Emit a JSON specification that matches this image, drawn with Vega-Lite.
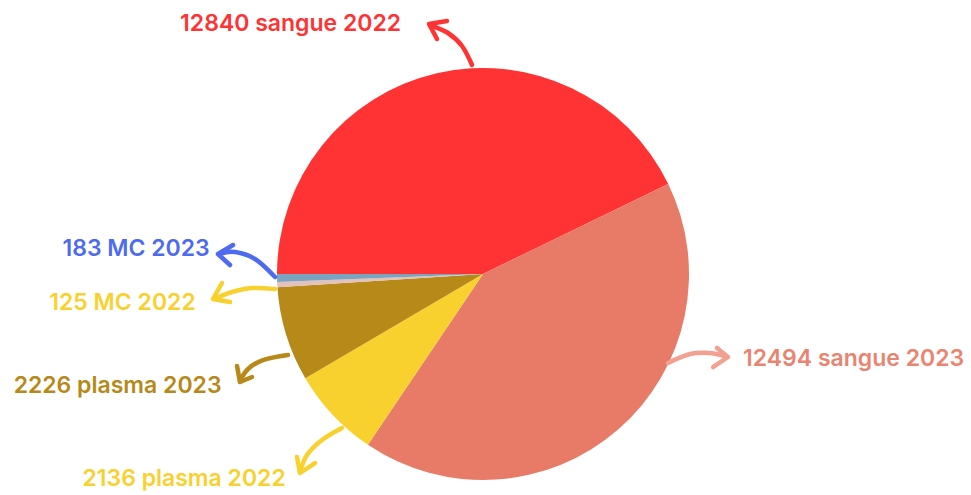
{
  "$schema": "https://vega.github.io/schema/vega-lite/v6.json",
  "width": 971,
  "height": 495,
  "padding": 0,
  "autosize": {"type": "fit", "contains": "padding"},
  "background": "white",
  "view": {"stroke": null},
  "config": {"font": "Inter"},
  "datasets": {
    "slices": [
      {"cat": "sangue 2022", "value": 12840, "ord": 1},
      {"cat": "sangue 2023", "value": 12494, "ord": 2},
      {"cat": "plasma 2022", "value": 2136, "ord": 3},
      {"cat": "plasma 2023", "value": 2226, "ord": 4},
      {"cat": "MC 2022", "value": 125, "ord": 5},
      {"cat": "MC 2023", "value": 183, "ord": 6}
    ],
    "labels": [
      {"cat": "sangue 2022", "label": "12840 sangue 2022", "lx": -93.4, "ly": 121.6},
      {"cat": "MC 2023", "label": "183 MC 2023", "lx": -168.4, "ly": 11.9},
      {"cat": "MC 2022", "label": "125 MC 2022", "lx": -175.0, "ly": -14.3},
      {"cat": "plasma 2023", "label": "2226 plasma 2023", "lx": -177.4, "ly": -54.4},
      {"cat": "plasma 2022", "label": "2136 plasma 2022", "lx": -145.1, "ly": -99.5},
      {"cat": "sangue 2023", "label": "12494 sangue 2023", "lx": 179.9, "ly": -41.3}
    ],
    "shafts": [
      {"cat": "sangue 2022", "i": 1, "ax": -5.34, "ay": 101.46},
      {"cat": "sangue 2022", "i": 2, "ax": -10.19, "ay": 110.68},
      {"cat": "sangue 2022", "i": 3, "ax": -16.99, "ay": 116.99},
      {"cat": "sangue 2022", "i": 4, "ax": -25.73, "ay": 120.87},
      {"cat": "MC 2023", "i": 1, "ax": -100.97, "ay": -1.46},
      {"cat": "MC 2023", "i": 2, "ax": -110.68, "ay": 7.28},
      {"cat": "MC 2023", "i": 3, "ax": -120.39, "ay": 10.68},
      {"cat": "MC 2023", "i": 4, "ax": -128.16, "ay": 9.71},
      {"cat": "MC 2022", "i": 1, "ax": -100.97, "ay": -7.28},
      {"cat": "MC 2022", "i": 2, "ax": -112.14, "ay": -6.80},
      {"cat": "MC 2022", "i": 3, "ax": -121.84, "ay": -8.74},
      {"cat": "MC 2022", "i": 4, "ax": -130.58, "ay": -12.14},
      {"cat": "plasma 2023", "i": 1, "ax": -94.66, "ay": -39.32},
      {"cat": "plasma 2023", "i": 2, "ax": -106.80, "ay": -41.75},
      {"cat": "plasma 2023", "i": 3, "ax": -114.08, "ay": -46.12},
      {"cat": "plasma 2023", "i": 4, "ax": -117.96, "ay": -51.94},
      {"cat": "plasma 2022", "i": 1, "ax": -68.45, "ay": -74.76},
      {"cat": "plasma 2022", "i": 2, "ax": -78.16, "ay": -80.58},
      {"cat": "plasma 2022", "i": 3, "ax": -85.44, "ay": -87.86},
      {"cat": "plasma 2022", "i": 4, "ax": -88.83, "ay": -96.12},
      {"cat": "sangue 2023", "i": 1, "ax": 89.81, "ay": -43.20},
      {"cat": "sangue 2023", "i": 2, "ax": 100.49, "ay": -38.83},
      {"cat": "sangue 2023", "i": 3, "ax": 110.19, "ay": -38.35},
      {"cat": "sangue 2023", "i": 4, "ax": 118.45, "ay": -40.29}
    ],
    "heads": [
      {"cat": "sangue 2022", "i": 1, "ax": -17.48, "ay": 122.82},
      {"cat": "sangue 2022", "i": 2, "ax": -26.21, "ay": 121.36},
      {"cat": "sangue 2022", "i": 3, "ax": -22.33, "ay": 114.08},
      {"cat": "MC 2023", "i": 1, "ax": -121.36, "ay": 14.08},
      {"cat": "MC 2023", "i": 2, "ax": -128.64, "ay": 9.71},
      {"cat": "MC 2023", "i": 3, "ax": -122.82, "ay": 4.37},
      {"cat": "MC 2022", "i": 1, "ax": -126.70, "ay": -4.37},
      {"cat": "MC 2022", "i": 2, "ax": -131.07, "ay": -12.14},
      {"cat": "MC 2022", "i": 3, "ax": -122.82, "ay": -13.59},
      {"cat": "plasma 2023", "i": 1, "ax": -119.42, "ay": -44.66},
      {"cat": "plasma 2023", "i": 2, "ax": -117.96, "ay": -52.43},
      {"cat": "plasma 2023", "i": 3, "ax": -112.14, "ay": -50.0},
      {"cat": "plasma 2022", "i": 1, "ax": -90.29, "ay": -88.83},
      {"cat": "plasma 2022", "i": 2, "ax": -88.83, "ay": -96.60},
      {"cat": "plasma 2022", "i": 3, "ax": -81.55, "ay": -91.75},
      {"cat": "sangue 2023", "i": 1, "ax": 113.59, "ay": -35.92},
      {"cat": "sangue 2023", "i": 2, "ax": 118.93, "ay": -40.29},
      {"cat": "sangue 2023", "i": 3, "ax": 111.65, "ay": -45.15}
    ]
  },
  "layer": [
    {
      "data": {"name": "slices"},
      "mark": {"type": "arc", "outerRadius": 206, "innerRadius": 0, "strokeWidth": 0},
      "encoding": {
        "x": {"datum": 0, "type": "quantitative", "scale": {"domain": [-234.47, 236.89], "nice": false, "zero": false}, "axis": null},
        "y": {"datum": 0, "type": "quantitative", "scale": {"domain": [-107.28, 133.01], "nice": false, "zero": false}, "axis": null},
        "theta": {"field": "value", "type": "quantitative", "stack": true, "scale": {"range": [4.712389, 10.995574]}},
        "order": {"field": "ord", "type": "quantitative"},
        "fill": {
          "field": "cat", "type": "nominal", "legend": null,
          "scale": {
            "domain": ["sangue 2022", "sangue 2023", "plasma 2022", "plasma 2023", "MC 2022", "MC 2023"],
            "range": ["#FF3333", "#E87B67", "#F9D12F", "#B68918", "#E3C2BC", "#7BA5BF"]
          }
        }
      }
    },
    {
      "data": {"name": "shafts"},
      "mark": {"type": "line", "interpolate": "cardinal", "strokeWidth": 4.5, "strokeCap": "round", "strokeJoin": "round"},
      "encoding": {
        "x": {"field": "ax", "type": "quantitative", "axis": null},
        "y": {"field": "ay", "type": "quantitative", "axis": null},
        "order": {"field": "i", "type": "quantitative"},
        "detail": {"field": "cat"},
        "stroke": {
          "field": "cat", "type": "nominal", "legend": null,
          "scale": {
            "domain": ["sangue 2022", "sangue 2023", "plasma 2022", "plasma 2023", "MC 2022", "MC 2023"],
            "range": ["#FF3333", "#F4A090", "#F9D12F", "#B68918", "#F9D12F", "#4E6BF0"]
          }
        }
      }
    },
    {
      "data": {"name": "heads"},
      "mark": {"type": "line", "interpolate": "linear", "strokeWidth": 4.5, "strokeCap": "round", "strokeJoin": "round"},
      "encoding": {
        "x": {"field": "ax", "type": "quantitative", "axis": null},
        "y": {"field": "ay", "type": "quantitative", "axis": null},
        "order": {"field": "i", "type": "quantitative"},
        "detail": {"field": "cat"},
        "stroke": {"field": "cat", "type": "nominal", "legend": null}
      }
    },
    {
      "data": {"name": "labels"},
      "mark": {"type": "text", "font": "Inter", "fontWeight": 600, "fontSize": 23, "align": "center", "baseline": "middle"},
      "encoding": {
        "x": {"field": "lx", "type": "quantitative", "axis": null},
        "y": {"field": "ly", "type": "quantitative", "axis": null},
        "text": {"field": "label"},
        "color": {
          "field": "cat", "type": "nominal", "legend": null,
          "scale": {
            "domain": ["sangue 2022", "sangue 2023", "plasma 2022", "plasma 2023", "MC 2022", "MC 2023"],
            "range": ["#FF3333", "#E98470", "#F9D12F", "#B68918", "#F9D12F", "#4E6BF0"]
          }
        }
      }
    }
  ]
}
